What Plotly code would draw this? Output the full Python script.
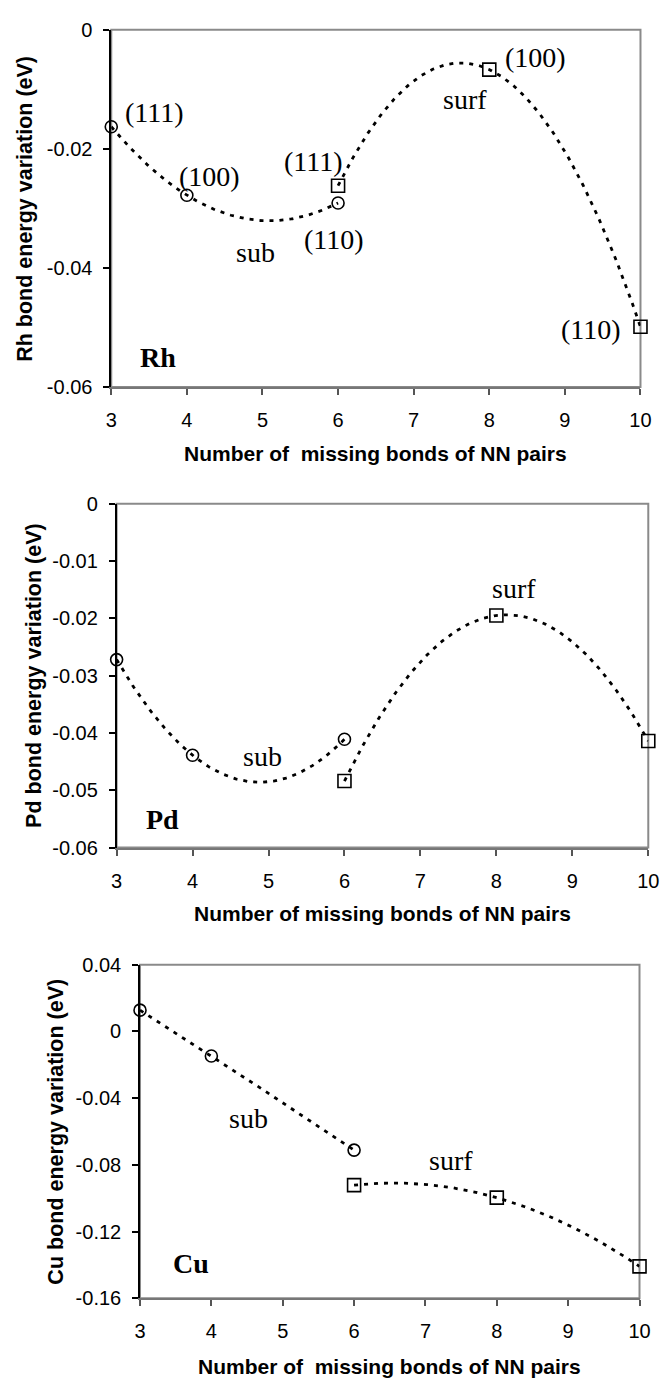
import numpy as np
import plotly.graph_objects as go

# ---------------- data ----------------
x_sub = [3, 4, 6]
x_surf = [6, 8, 10]

rh_sub = [-0.0163, -0.0278, -0.0291]
rh_surf = [-0.0262, -0.0067, -0.0499]
pd_sub = [-0.0272, -0.0439, -0.0411]
pd_surf = [-0.0484, -0.0195, -0.0414]
cu_sub = [0.0127, -0.0148, -0.0712]
cu_surf = [-0.0922, -0.0997, -0.1409]

x_ticks = [3, 4, 5, 6, 7, 8, 9, 10]
rh_yticks = [0, -0.02, -0.04, -0.06]
rh_ytext = ["0", "-0.02", "-0.04", "-0.06"]
pd_yticks = [0, -0.01, -0.02, -0.03, -0.04, -0.05, -0.06]
pd_ytext = ["0", "-0.01", "-0.02", "-0.03", "-0.04", "-0.05", "-0.06"]
cu_yticks = [0.04, 0, -0.04, -0.08, -0.12, -0.16]
cu_ytext = ["0.04", "0", "-0.04", "-0.08", "-0.12", "-0.16"]

W, H = 670, 1387
SANS = "Liberation Sans, Arial, sans-serif"
SERIF = "Liberation Serif, Times New Roman, serif"

panels = [
    dict(name="Rh", sub=rh_sub, surf=rh_surf, yr=[-0.06, 0], yt=rh_yticks, ytt=rh_ytext,
         px=(108, 651), py=(19, 382), ytitle_x=20, xtitle_y=450,
         xtitle="Number of\u00a0 missing bonds of NN pairs",
         labels=[("(111)", 3.57, -0.0139), ("(100)", 4.30, -0.0246), ("(111)", 5.67, -0.0222),
                 ("(110)", 5.94, -0.0352), ("sub", 4.91, -0.0374), ("surf", 7.68, -0.0117),
                 ("(100)", 8.61, -0.0046), ("(110)", 9.34, -0.0503)],
         elem=(3.62, -0.0550)),
    dict(name="Pd", sub=pd_sub, surf=pd_surf, yr=[-0.06, 0], yt=pd_yticks, ytt=pd_ytext,
         px=(113.5, 659), py=(500.7, 850), ytitle_x=28, xtitle_y=917,
         xtitle="Number of missing bonds of NN pairs",
         labels=[("surf", 8.23, -0.0148), ("sub", 4.92, -0.0442)],
         elem=(3.60, -0.0551)),
    dict(name="Cu", sub=cu_sub, surf=cu_surf, yr=[-0.16, 0.04], yt=cu_yticks, ytt=cu_ytext,
         px=(137.5, 650), py=(969, 1308), ytitle_x=51.5, xtitle_y=1377,
         xtitle="Number of\u00a0 missing bonds of NN pairs",
         labels=[("sub", 4.52, -0.052), ("surf", 7.36, -0.0774)],
         elem=(3.72, -0.1394)),
]

fig = go.Figure()
annotations = []
shapes = []

for i, p in enumerate(panels):
    k = "" if i == 0 else str(i + 1)
    xa, ya = "x" + k, "y" + k
    xdom = [p["px"][0] / W, p["px"][1] / W]
    ydom = [1 - p["py"][1] / H, 1 - p["py"][0] / H]

    # trendlines (2nd order polynomial fits of the data)
    for xs, ys in ((x_sub, p["sub"]), (x_surf, p["surf"])):
        coef = np.polyfit(xs, ys, 2)
        xx = np.linspace(min(xs), max(xs), 200)
        fig.add_trace(go.Scatter(x=xx, y=np.polyval(coef, xx), mode="lines",
                                 line=dict(color="black", width=2.8, dash="4px,6px"),
                                 xaxis=xa, yaxis=ya, showlegend=False, hoverinfo="skip",
                                 cliponaxis=False))
    fig.add_trace(go.Scatter(x=x_sub, y=p["sub"], mode="markers",
                             marker=dict(symbol="circle-open", size=12, color="black",
                                         line=dict(width=1.6, color="black")),
                             xaxis=xa, yaxis=ya, showlegend=False, cliponaxis=False))
    fig.add_trace(go.Scatter(x=x_surf, y=p["surf"], mode="markers",
                             marker=dict(symbol="square-open", size=13, color="black",
                                         line=dict(width=1.6, color="black")),
                             xaxis=xa, yaxis=ya, showlegend=False, cliponaxis=False))

    fig.layout["xaxis" + k] = dict(
        domain=xdom, anchor=ya, range=[3, 10], tickvals=x_ticks,
        showline=True, linecolor="#777", linewidth=2, ticks="outside", ticklen=6,
        tickcolor="#555", tickwidth=1.5, showgrid=False, zeroline=False,
        tickfont=dict(family=SANS, size=20, color="black"), ticklabelstandoff=8)
    fig.layout["yaxis" + k] = dict(
        domain=ydom, anchor=xa, range=p["yr"], tickvals=p["yt"], ticktext=p["ytt"],
        showline=True, linecolor="black", linewidth=1.6, ticks="outside", ticklen=6,
        tickcolor="black", tickwidth=1.5, showgrid=False, zeroline=False,
        tickfont=dict(family=SANS, size=20, color="black"), ticklabelstandoff=7)

    # plot-area border
    shapes.append(dict(type="rect", xref=xa + " domain", yref=ya + " domain",
                       x0=0, x1=1, y0=0, y1=1, line=dict(color="#8a8a8a", width=2),
                       layer="below"))

    # axis titles
    annotations.append(dict(text=p["xtitle"], xref="paper", yref="paper",
                            x=(xdom[0] + xdom[1]) / 2, y=1 - p["xtitle_y"] / H,
                            xanchor="center", yanchor="middle", showarrow=False,
                            font=dict(family=SANS, size=21, color="black", weight="bold")))
    annotations.append(dict(text=p["name"] + " bond energy variation (eV)",
                            xref="paper", yref="paper", textangle=-90,
                            x=p["ytitle_x"] / W, y=(ydom[0] + ydom[1]) / 2,
                            xanchor="center", yanchor="middle", showarrow=False,
                            font=dict(family=SANS, size=21.5, color="black", weight="bold")))
    # in-plot labels
    for txt, lx, ly in p["labels"]:
        annotations.append(dict(text=txt, x=lx, y=ly, xref=xa, yref=ya, showarrow=False,
                                xanchor="center", yanchor="middle",
                                font=dict(family=SERIF, size=28, color="black")))
    annotations.append(dict(text="<b>" + p["name"] + "</b>", x=p["elem"][0], y=p["elem"][1],
                            xref=xa, yref=ya, showarrow=False, xanchor="center",
                            yanchor="middle", font=dict(family=SERIF, size=28, color="black")))

fig.update_layout(width=W, height=H, margin=dict(l=0, r=0, t=0, b=0),
                  paper_bgcolor="white", plot_bgcolor="white",
                  annotations=annotations, shapes=shapes, showlegend=False)

fig.write_html("out.html", config={"displayModeBar": False},
               post_script="document.body.style.margin='0';")
